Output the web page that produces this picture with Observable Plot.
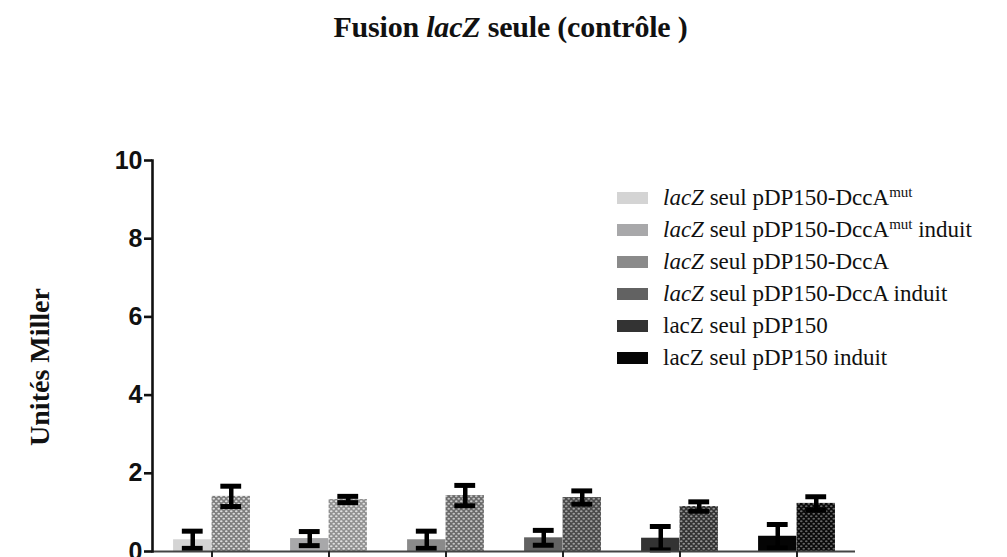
<!DOCTYPE html>
<html><head><meta charset="utf-8">
<script src="https://cdn.jsdelivr.net/npm/d3@7"></script>
<script src="https://cdn.jsdelivr.net/npm/@observablehq/plot@0.6"></script>
<style>
body{margin:0;background:#fff;width:1007px;height:557px;overflow:hidden;position:relative;font-family:"Liberation Serif",serif}
#title{position:absolute;top:10px;left:0;width:1021px;text-align:center;font:bold 30px "Liberation Serif";color:#111;letter-spacing:-0.2px}
#ylabel{position:absolute;left:40px;top:367px;transform:translate(-50%,-50%) rotate(-90deg);white-space:nowrap;font:bold 28px "Liberation Serif";color:#111}
#chart{position:absolute;top:60px;left:0}
#legend{position:absolute;left:617px;top:182px}
.row{display:flex;align-items:center;height:32px;font-size:23px;color:#111;white-space:nowrap}
.sw{width:31px;height:12px;margin-right:15px;flex:none}
sup{font-size:15px;vertical-align:8px;line-height:0}
#chart svg text{font-family:"Liberation Sans",Arial,sans-serif}
</style></head>
<body>
<div id="title">Fusion <i>lacZ</i> seule (contrôle )</div>
<div id="ylabel">Unités Miller</div>
<div id="chart"></div>
<div id="legend"></div>
<script>
// ---- data ----
const groups = ["DccAmut", "DccAmut induit", "DccA", "DccA induit", "pDP150", "pDP150 induit"];
const legendLabels = [
  "<i>lacZ</i> seul pDP150-DccA<sup>mut</sup>",
  "<i>lacZ</i> seul pDP150-DccA<sup>mut</sup> induit",
  "<i>lacZ</i> seul pDP150-DccA",
  "<i>lacZ</i> seul pDP150-DccA induit",
  "lacZ seul pDP150",
  "lacZ seul pDP150 induit"
];
const meansSolid = [0.30, 0.33, 0.30, 0.35, 0.34, 0.39];
const semSolid   = [0.22, 0.18, 0.22, 0.19, 0.30, 0.30];
const meansDots  = [1.41, 1.33, 1.43, 1.38, 1.15, 1.23];
const semDots    = [0.26, 0.08, 0.26, 0.17, 0.12, 0.17];
const yTicks = [0, 2, 4, 6, 8, 10];
// ---- styles ----
const groupColors = ["#d4d4d4", "#a8a8aa", "#8a8a8a", "#626262", "#333333", "#050505"];
const patBg  = ["#7e7e7e", "#909090", "#6a6a6a", "#4a4a4a", "#333333", "#0a0a0a"];
const patDot = ["#dcdcdc", "#e0e0e0", "#c6c6c6", "#a0a0a0", "#949494", "#666666"];

const rows = groups.map((g, i) => ({g, i, mS: meansSolid[i], sS: semSolid[i], mD: meansDots[i], sD: semDots[i]}));

const W = 1007, ML = 152, MR = 152;
const bw = (W - ML - MR) / groups.length;
const barW = 38.5;
const outer = bw / 2 - barW;        // inset on the outer side of each bar
const inner = bw / 2;               // inset on the inner side
const capW = 21;
const capOuter = bw / 2 - barW / 2 - capW / 2;
const capInner = bw - capOuter - capW;

const chart = Plot.plot({
  width: W, height: 497,
  marginLeft: ML, marginRight: MR, marginTop: 100, marginBottom: 6,
  x: {domain: groups, padding: 0},
  y: {domain: [0, 10]},
  color: {type: "identity"},
  marks: [
    Plot.barY(rows, {x: "g", y: "mS", fill: d => groupColors[d.i], insetLeft: outer, insetRight: inner}),
    Plot.barY(rows, {x: "g", y: "mD", fill: d => `url(#pat${d.i})`, insetLeft: inner, insetRight: outer}),
    Plot.ruleX(rows, {x: "g", y1: d => d.mS - d.sS, y2: d => d.mS + d.sS, dx: -barW / 2, stroke: "#000", strokeWidth: 4.5}),
    Plot.ruleX(rows, {x: "g", y1: d => d.mD - d.sD, y2: d => d.mD + d.sD, dx: barW / 2, stroke: "#000", strokeWidth: 4.5}),
    Plot.tickY(rows, {x: "g", y: d => d.mS + d.sS, insetLeft: capOuter, insetRight: capInner, stroke: "#000", strokeWidth: 5}),
    Plot.tickY(rows, {x: "g", y: d => d.mS - d.sS, insetLeft: capOuter, insetRight: capInner, stroke: "#000", strokeWidth: 5}),
    Plot.tickY(rows, {x: "g", y: d => d.mD + d.sD, insetLeft: capInner, insetRight: capOuter, stroke: "#000", strokeWidth: 5}),
    Plot.tickY(rows, {x: "g", y: d => d.mD - d.sD, insetLeft: capInner, insetRight: capOuter, stroke: "#000", strokeWidth: 5}),
    Plot.ruleY([0], {stroke: "#444", strokeWidth: 2.2}),
    Plot.frame({anchor: "left", stroke: "#111", strokeWidth: 2.6}),
    Plot.axisY({ticks: yTicks, tickSize: 8, tickPadding: 2, label: null, fontSize: 25, fontWeight: "bold", stroke: "#111", strokeWidth: 2.6, fill: "#111"}),
    Plot.axisX({tickFormat: () => "", tickSize: 6, label: null, stroke: "#222", strokeWidth: 2})
  ]
});

// patterns for the dotted bars
const defs = d3.select(chart).insert("defs", ":first-child");
groups.forEach((g, i) => {
  const p = defs.append("pattern").attr("id", `pat${i}`).attr("patternUnits", "userSpaceOnUse")
    .attr("width", 5).attr("height", 5);
  p.append("rect").attr("width", 5).attr("height", 5).attr("fill", patBg[i]);
  p.append("ellipse").attr("cx", 1.25).attr("cy", 1.25).attr("rx", 1.3).attr("ry", 1.0).attr("fill", patDot[i]);
  p.append("ellipse").attr("cx", 3.75).attr("cy", 3.75).attr("rx", 1.3).attr("ry", 1.0).attr("fill", patDot[i]);
});
document.getElementById("chart").appendChild(chart);

// legend
const leg = d3.select("#legend");
legendLabels.forEach((lab, i) => {
  const r = leg.append("div").attr("class", "row");
  r.append("div").attr("class", "sw").style("background", groupColors[i]);
  r.append("span").html(lab);
});
</script>
</body></html>
